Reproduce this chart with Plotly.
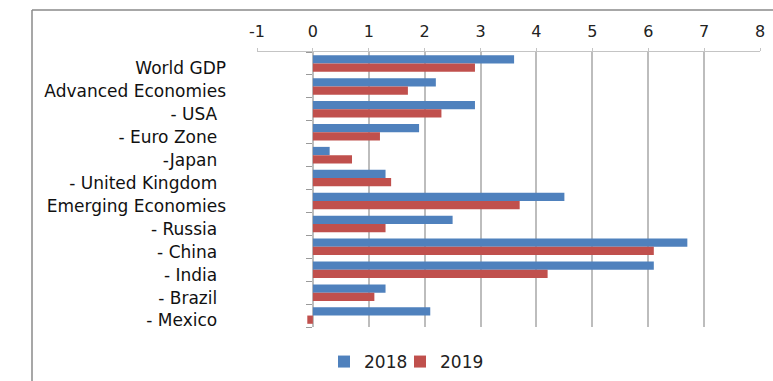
import plotly.graph_objects as go

categories = ["World GDP", "Advanced Economies", "- USA", "- Euro Zone", "-Japan",
              "- United Kingdom", "Emerging Economies", "- Russia", "- China",
              "- India", "- Brazil", "- Mexico"]
values_2018 = [3.6, 2.2, 2.9, 1.9, 0.3, 1.3, 4.5, 2.5, 6.7, 6.1, 1.3, 2.1]
values_2019 = [2.9, 1.7, 2.3, 1.2, 0.7, 1.4, 3.7, 1.3, 6.1, 4.2, 1.1, -0.1]
x_ticks = [-1, 0, 1, 2, 3, 4, 5, 6, 7, 8]

indented = [c.startswith("-") for c in categories]
tick_text = [c + ("\u00a0\u2009" if ind else "") for c, ind in zip(categories, indented)]

fig = go.Figure()
fig.add_trace(go.Bar(y=categories, x=values_2018, name="2018", orientation="h", showlegend=True,
                     marker=dict(color="#4F81BD", line=dict(width=0)), legend="legend"))
fig.add_trace(go.Bar(y=categories, x=values_2019, name="2019", orientation="h", showlegend=True,
                     marker=dict(color="#C0504D", line=dict(width=0)), legend="legend2"))

L, R, T, B = 257, 13, 52, 54
W, H = 773, 381
pw = W - L - R
ph = H - T - B

def px(x):
    return (x - L) / pw

def py(y):
    return (H - B - y) / ph

zero_pos = px(312)

legend_common = dict(orientation="h", y=-35 / ph, xanchor="left", yanchor="middle",
                     font=dict(size=17, color="#222"), itemwidth=30,
                     bgcolor="rgba(0,0,0,0)")

fig.update_layout(
    width=W, height=H,
    showlegend=True,
    margin=dict(l=L, r=R, t=T, b=B, pad=0, autoexpand=False),
    paper_bgcolor="white", plot_bgcolor="white",
    barmode="group", bargap=0.28, bargroupgap=0.0,
    font=dict(family="DejaVu Sans", size=17, color="#222"),
    xaxis=dict(side="top", range=[-1, 8], tickvals=x_ticks, ticktext=[str(v) for v in x_ticks],
               showgrid=True, gridcolor="#bdbdbd", gridwidth=1.5,
               zeroline=False, showline=True, linecolor="#c4c4c4", linewidth=1,
               ticks="outside", ticklen=3, tickcolor="#c4c4c4", ticklabelstandoff=5,
               tickfont=dict(size=16, color="#222"), fixedrange=True, automargin=False),
    yaxis=dict(autorange="reversed", showgrid=False, zeroline=False, showline=False,
               anchor="free", position=zero_pos,
               tickvals=categories, ticktext=tick_text,
               ticks="outside", tickson="boundaries", ticklen=6, tickcolor="#9a9a9a", tickwidth=1,
               ticklabelstandoff=86, ticklabelshift=-5, automargin=False,
               tickfont=dict(size=17, color="#111")),
    legend=dict(x=px(324), **legend_common),
    legend2=dict(x=px(400), **legend_common),
    shapes=[
        dict(type="line", xref="paper", yref="paper", x0=px(32), x1=px(773), y0=py(10), y1=py(10),
             line=dict(color="#8a8a8a", width=1.5)),
        dict(type="line", xref="paper", yref="paper", x0=px(32), x1=px(32), y0=py(10), y1=py(381),
             line=dict(color="#8a8a8a", width=1.5)),
    ],
)

fig.write_html("out.html")
